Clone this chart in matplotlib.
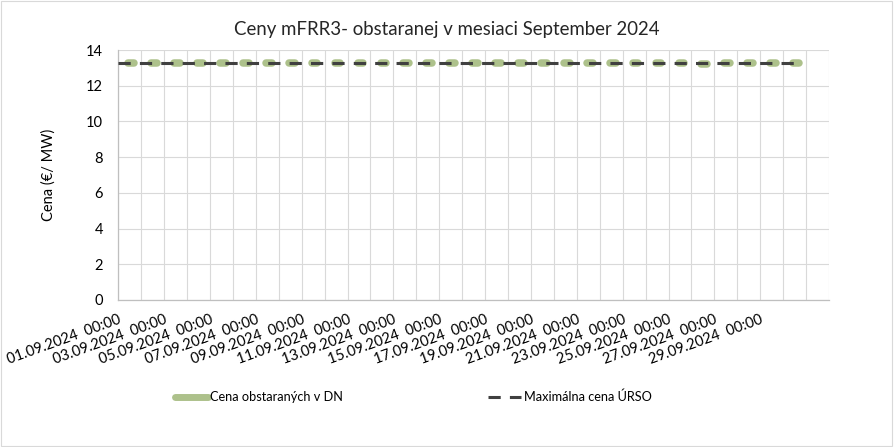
import pandas as pd
import matplotlib
matplotlib.use('Agg')
import matplotlib.pyplot as plt
import matplotlib.dates as mdates
from matplotlib.lines import Line2D
from matplotlib.patches import Rectangle

plt.rcParams['font.family'] = ['Lato', 'DejaVu Sans']

# daily values, September 2024
days = pd.date_range('2024-09-01', '2024-09-30', freq='D')
cena_dn = [13.26] * 25 + [13.21] + [13.26] * 4
max_cena = [13.26] * 30
tick_days = pd.date_range('2024-09-01', '2024-09-29', freq='2D')
tick_labels = [d.strftime('%d.%m.%Y  %H:%M') for d in tick_days]

green = '#ADC18B'
dark = '#404040'
grid_c = '#D9D9D9'

fig = plt.figure(figsize=(8.94, 4.47), dpi=100)
ax = fig.add_axes([0.1323, 0.3289, 0.795, 0.5592])

# green: one short thick dash per day
seg = ax.hlines(cena_dn, days + pd.Timedelta(hours=10.5), days + pd.Timedelta(hours=16.5),
                colors=green, linewidth=5.4, zorder=3)
seg.set_capstyle('round')

# dark dashed line for max price
x_max = list(days) + [days[-1] + pd.Timedelta(hours=19)]
y_max = max_cena + [max_cena[-1]]
ax.plot(x_max, y_max, color=dark, linewidth=2.2, linestyle=(0, (4, 3)),
        dash_capstyle='butt', zorder=4)

ax.set_xlim(days[0], days[-1] + pd.Timedelta(days=2))
ax.set_ylim(0, 14)
ax.set_yticks(range(0, 15, 2))
ax.set_xticks(tick_days)
ax.set_xticklabels(tick_labels, rotation=20, ha='right', rotation_mode='anchor', fontsize=10.5)
ax.xaxis.set_minor_locator(mdates.DayLocator())
ax.tick_params(axis='both', which='both', length=0)
ax.tick_params(axis='y', labelsize=10.5, pad=11)
ax.tick_params(axis='x', pad=9)

ax.grid(True, which='both', axis='x', color=grid_c, linewidth=0.8)
ax.grid(True, which='major', axis='y', color=grid_c, linewidth=0.8)
ax.set_axisbelow(True)
for s in ['top', 'right']:
    ax.spines[s].set_visible(False)
for s in ['left', 'bottom']:
    ax.spines[s].set_color('#BFBFBF')
    ax.spines[s].set_linewidth(0.9)

ax.set_ylabel('Cena (€/ MW)', fontsize=10.5, labelpad=22)
fig.text(0.5, 0.935, 'Ceny mFRR3- obstaranej v mesiaci September 2024',
         ha='center', va='center', fontsize=13.4, color='#262626')

handles = [Line2D([], [], color=green, linewidth=5, solid_capstyle='round'),
           Line2D([], [], color=dark, linewidth=2.2, linestyle=(0, (4, 3)))]
fig.legend(handles, ['Cena obstaraných v DN', 'Maximálna cena ÚRSO'],
           loc='center', bbox_to_anchor=(0.462, 0.112), ncol=2, frameon=False,
           fontsize=9.2, handlelength=2.6, handletextpad=0.2, columnspacing=11.3)

fig.patches.append(Rectangle((0.001, 0.002), 0.997, 0.996, transform=fig.transFigure,
                             fill=False, edgecolor='#D9D9D9', linewidth=0.8))

fig.savefig('out.png', dpi=100)
